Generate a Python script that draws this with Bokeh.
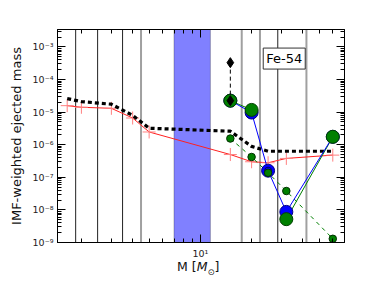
import math
from bokeh.plotting import figure
from bokeh.layouts import column
from bokeh.models import (LogAxis, FixedTicker, CustomJSTickFormatter, Span,
                          BoxAnnotation, Label, Div)
from bokeh.embed import file_html
from bokeh.resources import INLINE

nan = float("nan")

# ---- data ----
masses = [1.65, 2, 3, 4, 5, 15, 20, 25, 32, 60]
imf_yield = [1.58e-5, 1.41e-5, 1.31e-5, 6.6e-6, 2.46e-6, 5.0e-7, 3.0e-7, 2.8e-7, 3.8e-7, 4.8e-7]
imf_total = [2.6e-5, 2.1e-5, 1.75e-5, 8.0e-6, 3.2e-6, 2.6e-6, 8.9e-7, 6.3e-7, 6.3e-7, 6.3e-7]

massive = [15, 20, 25, 32, 60]
blue_big = [2.25e-5, 9.7e-6, 1.6e-7, 8.7e-9, 1.75e-6]
green_big = [2.25e-5, 1.17e-5, nan, 5.2e-9, 1.75e-6]
green_small = [1.55e-6, 4.2e-7, 1.38e-7, 3.8e-8, 1.3e-9]

diamond_mass = [15, 15]
diamond_vals = [3.3e-4, 2.25e-5]

bin_black = [1.85, 2.49, 3.49, 28.5]
bin_gray = [4.48, 17.5, 22.4, 42.0]
band = [7.0, 11.45]

x_major = [10]
x_minor = [2, 3, 4, 5, 6, 7, 8, 9, 20, 30, 40, 50, 60]
y_major = [10.0 ** e for e in range(-9, -2)]
y_minor = [k * 10.0 ** e for e in range(-9, -2) for k in range(2, 10)]

label_text = "Fe-54"
y_label = "IMF-weighted ejected mass"

# ---- figure ----
p = figure(width=374, height=261, x_axis_type="log", y_axis_type="log",
           x_range=(1.447, 70.3), y_range=(1e-9, 3.43e-3),
           output_backend="svg", toolbar_location=None,
           min_border_left=57, min_border_right=30, min_border_top=29, min_border_bottom=17)
p.background_fill_color = "white"
p.border_fill_color = "white"
p.outline_line_color = "black"
p.outline_line_width = 1
p.grid.visible = False

fmt = CustomJSTickFormatter(code="""
const e = Math.round(Math.log10(tick));
const sup = {'-':'\u207b','0':'\u2070','1':'\u00b9','2':'\u00b2','3':'\u00b3','4':'\u2074','5':'\u2075','6':'\u2076','7':'\u2077','8':'\u2078','9':'\u2079'};
return '10' + String(e).split('').map(c => sup[c]).join('');
""")

def style(ax, show_labels, standoff=4):
    ax.major_tick_in = 8
    ax.major_tick_out = 0
    ax.minor_tick_in = 4
    ax.minor_tick_out = 0
    ax.axis_line_color = "black"
    ax.major_tick_line_color = "black"
    ax.minor_tick_line_color = "black"
    ax.formatter = fmt
    ax.major_label_text_font = "DejaVu Sans"
    ax.major_label_text_font_size = "9.5px"
    ax.major_label_text_color = "#222222" if show_labels else None
    ax.major_label_standoff = standoff

p.xaxis.ticker = FixedTicker(ticks=x_major, minor_ticks=x_minor)
p.yaxis.ticker = FixedTicker(ticks=y_major, minor_ticks=y_minor)
style(p.xaxis[0], True, standoff=5)
style(p.yaxis[0], True)
p.yaxis.axis_label = y_label
p.yaxis.axis_label_text_font = "DejaVu Sans"
p.yaxis.axis_label_text_font_size = "13px"
p.yaxis.axis_label_text_font_style = "normal"
p.yaxis.axis_label_text_color = "#111111"
p.yaxis.axis_label_standoff = 6

top = LogAxis(ticker=FixedTicker(ticks=x_major, minor_ticks=x_minor))
style(top, False)
p.add_layout(top, "above")
right = LogAxis(ticker=FixedTicker(ticks=y_major, minor_ticks=y_minor))
style(right, False)
p.add_layout(right, "right")

# ---- shaded band and bin boundaries ----
p.add_layout(BoxAnnotation(left=band[0], right=band[1], fill_color="#8080ff", fill_alpha=1.0,
                           line_color="#222222", line_width=1, level="underlay"))
for m in bin_gray:
    p.add_layout(Span(location=m, dimension="height", line_color="#a0a0a0", line_width=2, level="underlay"))
for m in bin_black:
    p.add_layout(Span(location=m, dimension="height", line_color="#222222", line_width=1, level="underlay"))

# ---- series ----
p.line(masses, imf_yield, line_color="#ff2020", line_width=1)
p.scatter(masses, imf_yield, marker="cross", size=13, line_color="#ff8080", line_width=1)

p.line(masses, imf_total, line_color="black", line_width=3.2, line_dash="4 3")

p.line(massive, green_small, line_color="#008000", line_width=1, line_dash="4 4")

p.line(massive, green_big, line_color="#008000", line_width=1)
p.line(massive, blue_big, line_color="#0000ff", line_width=1)
p.scatter(massive, blue_big, size=13, fill_color="#0000ff", line_color="#000080", line_width=1)
p.scatter([massive[2]], [blue_big[2]], size=7, fill_color=None, line_color="#000060", line_width=1)
p.scatter(massive, green_big, size=13, fill_color="#008000", line_color="#004000", line_width=1)
p.scatter(massive, green_small, size=7.5, fill_color="#008000", line_color="#003000", line_width=1)

p.line(diamond_mass, diamond_vals, line_color="black", line_width=1, line_dash="4 3")
p.scatter(diamond_mass, diamond_vals, marker="diamond", size=10, fill_color="black", line_color="black")

# ---- element label ----
p.add_layout(Label(x=31.1, y=4.4e-4, text=label_text, text_align="center", text_baseline="middle",
                   text_font="DejaVu Sans", text_font_size="13px", text_color="black",
                   background_fill_color="white", border_line_color="#333333", border_line_width=1,
                   padding=3))

# ---- x axis label: M [M_sun] as real HTML text ----
xlab = Div(text='<span style="font-family:\'DejaVu Sans\';font-size:12.5px;color:#111;'
                'white-space:nowrap;line-height:15px">M [<i>M</i>'
                '<sub style="font-size:8.5px">\u2299</sub>]</span>',
           width=90, height=19, margin=(-2, 0, 0, 177))

layout = column(p, xlab, spacing=0)
open("out.html", "w").write(file_html(layout, INLINE))
